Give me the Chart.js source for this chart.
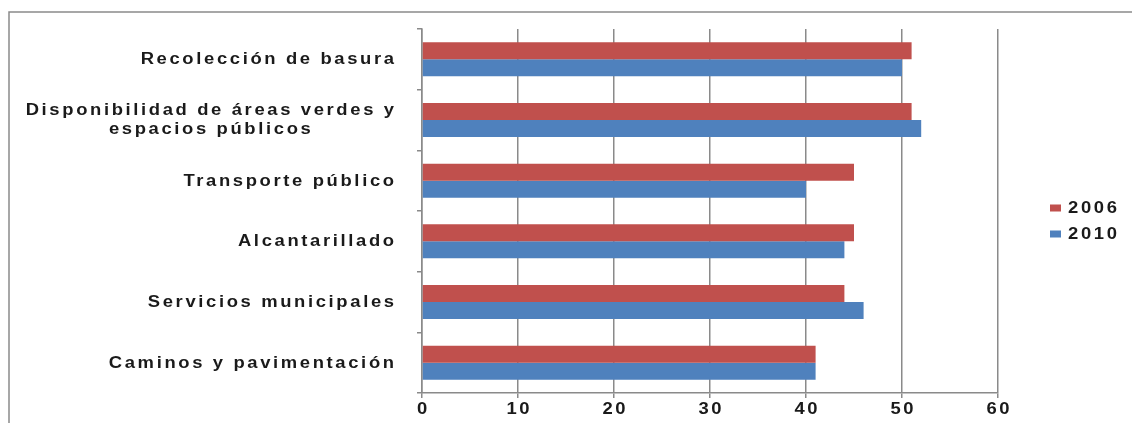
<!DOCTYPE html>
<html>
<head>
<meta charset="utf-8">
<script src="https://cdn.jsdelivr.net/npm/chart.js@4"></script>
<style>
    body { margin: 0; background: #fff; }
    #wrap { width: 1132px; height: 423px; position: relative; }
</style>
</head>
<body>
<div id="wrap"><canvas id="servChart"></canvas></div>
<script>
// Data
const categories = [
    'Recolección de basura',
    ['Disponibilidad de áreas verdes y', 'espacios públicos'],
    'Transporte público',
    'Alcantarillado',
    'Servicios municipales',
    'Caminos y pavimentación'
];
const values2006 = [51, 51, 45, 45, 44, 41];
const values2010 = [50, 52, 40, 44, 46, 41];
const seriesNames = ['2006', '2010'];
const seriesColors = ['#C0504D', '#4F81BD'];
const xTicks = [0, 10, 20, 30, 40, 50, 60];

const gridGray = '#8a8a8a';
const textColor = '#1a1a1a';
const fontFamily = '"Liberation Sans", Arial, sans-serif';
const spacing = 2.3;
const stretch = 1.15;

// the original text is wide and loosely spaced: letter spacing + horizontal stretch
function wideText(c, text, x, y, align) {
    c.save();
    if ('letterSpacing' in c) c.letterSpacing = spacing + 'px';
    const w = (c.measureText(text).width - spacing) * stretch;
    let x0 = x;
    if (align === 'center') x0 = x - w / 2;
    else if (align === 'right') x0 = x - w;
    c.translate(x0, y);
    c.scale(stretch, 1);
    c.textAlign = 'left';
    c.fillText(text, 0, 0);
    c.restore();
    return w;
}

function wideWidth(c, text) {
    c.save();
    if ('letterSpacing' in c) c.letterSpacing = spacing + 'px';
    const w = (c.measureText(text).width - spacing) * stretch;
    c.restore();
    return w;
}

// frame around the chart (only top + left edge are visible)
const framePlugin = {
    id: 'frame',
    beforeDraw(chart) {
        const c = chart.ctx;
        c.save();
        c.strokeStyle = '#8a8a8a';
        c.lineWidth = 1.5;
        c.beginPath();
        c.moveTo(1132, 12);
        c.lineTo(9, 12);
        c.lineTo(9, 423);
        c.stroke();
        c.restore();
    }
};

// category labels (right aligned, multi-line ones centred on themselves) and x tick labels
const axisText = {
    id: 'axisText',
    afterDraw(chart) {
        const c = chart.ctx;
        const yScale = chart.scales.y;
        const xScale = chart.scales.x;
        const right = chart.chartArea.left - 28;
        c.save();
        c.font = 'bold 16px ' + fontFamily;
        c.fillStyle = textColor;
        c.textBaseline = 'middle';
        categories.forEach((lab, i) => {
            const y = yScale.getPixelForTick(i);
            const lines = Array.isArray(lab) ? lab : [lab];
            const widest = Math.max(...lines.map(l => wideWidth(c, l)));
            const cx = right - widest / 2;
            lines.forEach((l, j) => {
                wideText(c, l, cx, y + 0.5 + (j - (lines.length - 1) / 2) * 19, 'center');
            });
        });
        xTicks.forEach(v => {
            wideText(c, String(v), xScale.getPixelForValue(v), chart.chartArea.bottom + 17, 'center');
        });
        c.restore();
    }
};

// legend to the right of the plot
const sideLegend = {
    id: 'sideLegend',
    afterDraw(chart) {
        const c = chart.ctx;
        const area = chart.chartArea;
        const x = area.right + 52;
        const mid = (area.top + area.bottom) / 2;
        c.save();
        c.font = 'bold 16px ' + fontFamily;
        c.textBaseline = 'middle';
        chart.data.datasets.forEach((ds, i) => {
            const y = mid - 3 + i * 26;
            c.fillStyle = ds.backgroundColor;
            c.fillRect(x, y - 3.5, 11, 7);
            c.fillStyle = textColor;
            wideText(c, ds.label, x + 18, y + 1, 'left');
        });
        c.restore();
    }
};

new Chart(document.getElementById('servChart'), {
    type: 'bar',
    data: {
        labels: categories,
        datasets: [
            {
                label: seriesNames[0],
                data: values2006,
                backgroundColor: seriesColors[0],
                categoryPercentage: 0.56,
                barPercentage: 1.0
            },
            {
                label: seriesNames[1],
                data: values2010,
                backgroundColor: seriesColors[1],
                categoryPercentage: 0.56,
                barPercentage: 1.0
            }
        ]
    },
    options: {
        indexAxis: 'y',
        responsive: true,
        maintainAspectRatio: false,
        animation: false,
        layout: {
            padding: { left: 10, top: 29, right: 134, bottom: 0 }
        },
        plugins: {
            legend: { display: false },
            tooltip: { enabled: false }
        },
        scales: {
            x: {
                min: 0,
                max: 60,
                afterBuildTicks: function(scale) {
                    scale.ticks = xTicks.map(v => ({ value: v }));
                },
                afterFit: function(scale) {
                    scale.height = 30;
                },
                grid: {
                    color: gridGray,
                    lineWidth: 1.5,
                    tickLength: 5,
                    drawTicks: true
                },
                border: { color: gridGray, width: 1.5 },
                ticks: { display: false }
            },
            y: {
                afterFit: function(scale) {
                    scale.width = 412;
                },
                grid: {
                    offset: true,
                    drawOnChartArea: false,
                    drawTicks: true,
                    tickLength: 5,
                    color: gridGray,
                    lineWidth: 1.5
                },
                border: { color: gridGray, width: 1.5 },
                ticks: { display: false }
            }
        }
    },
    plugins: [framePlugin, axisText, sideLegend]
});
</script>
</body>
</html>
